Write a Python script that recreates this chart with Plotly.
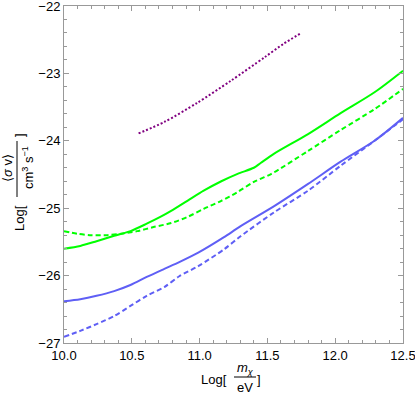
import plotly.graph_objects as go

# --- data (log10 of mass in eV, log10 of <sigma v>) ---
green_solid_x = [10.00, 10.12, 10.24, 10.37, 10.49, 10.61, 10.71, 10.79, 10.91, 11.03,
                 11.16, 11.28, 11.40, 11.45, 11.55, 11.80, 12.04, 12.29, 12.50]
green_solid_y = [-25.60, -25.56, -25.49, -25.41, -25.34, -25.23, -25.13, -25.04, -24.89, -24.74,
                 -24.60, -24.49, -24.40, -24.33, -24.19, -23.90, -23.59, -23.28, -22.96]

green_dash_x = [10.00, 10.10, 10.19, 10.32, 10.42, 10.54, 10.66, 10.79, 10.91, 11.03,
                11.16, 11.28, 11.40, 11.53, 11.80, 12.04, 12.29, 12.50]
green_dash_y = [-25.34, -25.38, -25.40, -25.40, -25.38, -25.34, -25.28, -25.22, -25.13, -25.01,
                -24.89, -24.76, -24.61, -24.49, -24.15, -23.84, -23.53, -23.23]

blue_solid_x = [10.00, 10.12, 10.24, 10.37, 10.49, 10.61, 10.74, 10.85, 10.99, 11.18,
                11.30, 11.55, 11.80, 12.04, 12.29, 12.50]
blue_solid_y = [-26.38, -26.35, -26.30, -26.23, -26.14, -26.02, -25.90, -25.80, -25.66, -25.43,
                -25.27, -24.97, -24.64, -24.31, -24.00, -23.66]

blue_dash_x = [10.00, 10.12, 10.24, 10.37, 10.49, 10.61, 10.74, 10.85, 10.99, 11.18,
               11.30, 11.55, 11.80, 12.04, 12.29, 12.50]
blue_dash_y = [-26.91, -26.82, -26.72, -26.60, -26.45, -26.30, -26.17, -26.01, -25.86, -25.61,
               -25.42, -25.06, -24.74, -24.37, -24.00, -23.68]

purple_x = [10.55, 10.74, 10.98, 11.23, 11.48, 11.62, 11.75]
purple_y = [-23.89, -23.72, -23.44, -23.11, -22.76, -22.56, -22.40]

x_ticks = [10.0, 10.5, 11.0, 11.5, 12.0, 12.5]
x_ticklabels = ["10.0", "10.5", "11.0", "11.5", "12.0", "12.5"]
y_ticks = [-27, -26, -25, -24, -23, -22]
y_ticklabels = ["\u221227", "\u221226", "\u221225", "\u221224", "\u221223", "\u221222"]

GREEN = "rgb(0,255,0)"
BLUE = "rgb(95,95,245)"
PURPLE = "rgb(128,0,128)"
FONT = "Liberation Sans, Arial, sans-serif"

fig = go.Figure()
fig.add_trace(go.Scatter(x=green_solid_x, y=green_solid_y, mode="lines",
                         line=dict(color=GREEN, width=2, shape="spline", smoothing=0.8)))
fig.add_trace(go.Scatter(x=green_dash_x, y=green_dash_y, mode="lines",
                         line=dict(color=GREEN, width=2, dash="5px,3px", shape="spline", smoothing=0.8)))
fig.add_trace(go.Scatter(x=blue_solid_x, y=blue_solid_y, mode="lines",
                         line=dict(color=BLUE, width=2, shape="spline", smoothing=0.8)))
fig.add_trace(go.Scatter(x=blue_dash_x, y=blue_dash_y, mode="lines",
                         line=dict(color=BLUE, width=2, dash="5px,3px", shape="spline", smoothing=0.8)))
fig.add_trace(go.Scatter(x=purple_x, y=purple_y, mode="lines",
                         line=dict(color=PURPLE, width=2, dash="2px,2px", shape="spline", smoothing=0.8)))

# plot area in pixels: left 64, right 403, top 6, bottom 343
L, R, T, B = 64, 403, 6, 343


def px(x):
    return (x - L) / (R - L)


def py(y):
    return (B - y) / (B - T)


ann = dict(xref="paper", yref="paper", showarrow=False, xanchor="center", yanchor="middle",
           font=dict(family=FONT, size=13, color="black"))
annotations = [
    # x axis label: Log[ m_chi / eV ]
    dict(ann, x=px(214), y=py(380), text="Log["),
    dict(ann, x=px(245), y=py(368), text="<i>m</i><sub><i>\u03c7</i></sub>"),
    dict(ann, x=px(245), y=py(387), text="eV"),
    dict(ann, x=px(259), y=py(380), text="]"),
    # y axis label: Log[ <sigma v> / cm^3 s^-1 ]
    dict(ann, x=px(19), y=py(218), text="Log[", textangle=-90),
    dict(ann, x=px(8), y=py(168), text="\u27e8<i>\u03c3</i> v\u27e9", textangle=-90),
    dict(ann, x=px(28), y=py(168), text="cm<sup>3</sup> s<sup>\u22121</sup>", textangle=-90),
    dict(ann, x=px(19), y=py(135), text="]", textangle=-90),
]
shapes = [
    dict(type="line", xref="paper", yref="paper", x0=px(234), x1=px(256),
         y0=py(377), y1=py(377), line=dict(color="black", width=1)),
    dict(type="line", xref="paper", yref="paper", x0=px(17), x1=px(17),
         y0=py(141), y1=py(197), line=dict(color="black", width=1)),
]

axis_common = dict(
    showgrid=False, zeroline=False, showline=True, linecolor="#999999", linewidth=1,
    mirror="allticks", ticks="inside", ticklen=5, tickcolor="#999999",
    tickfont=dict(family=FONT, size=13, color="black"),
    ticklabeloverflow="allow", automargin=False,
)

fig.update_layout(
    width=415, height=397,
    margin=dict(l=L, r=415 - R, t=T, b=397 - B),
    plot_bgcolor="white", paper_bgcolor="white",
    showlegend=False,
    annotations=annotations,
    shapes=shapes,
)
fig.update_xaxes(axis_common, range=[10.0, 12.5], tickvals=x_ticks, ticktext=x_ticklabels,
                 minor=dict(ticks="inside", dtick=0.1, ticklen=3, tickcolor="#999999"))
fig.update_yaxes(axis_common, range=[-27, -22], tickvals=y_ticks, ticktext=y_ticklabels,
                 minor=dict(ticks="inside", dtick=0.2, ticklen=3, tickcolor="#999999"))

# drop the browser's default body margin so the figure sits at the window's corner
fig.write_html("out.html", config={"displayModeBar": False},
               post_script="document.body.style.margin='0';")
